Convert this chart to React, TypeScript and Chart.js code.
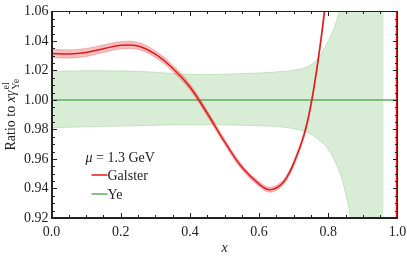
import React, { useEffect, useRef } from "react";
import { Chart, registerables } from "chart.js";

Chart.register(...registerables);

// ---- data ----
const galsterX = [0, 0.05, 0.1, 0.15, 0.2, 0.25, 0.3, 0.35, 0.4, 0.45, 0.5, 0.55, 0.6, 0.63, 0.66, 0.68, 0.7, 0.73, 0.75, 0.77, 0.79, 0.81];
const galsterRatio = [1.0315, 1.0312, 1.0322, 1.0347, 1.037, 1.0366, 1.031, 1.0215, 1.0088, 0.991, 0.9718, 0.9545, 0.943, 0.9392, 0.942, 0.9475, 0.957, 0.9765, 0.997, 1.026, 1.062, 1.105];
const galsterErr = [0.0028, 0.0028, 0.0027, 0.0026, 0.0025, 0.0024, 0.0023, 0.0022, 0.002, 0.0019, 0.0018, 0.0017, 0.0017, 0.0017, 0.0017, 0.0017, 0.0018, 0.002, 0.0022, 0.0025, 0.003, 0.0035];
const galsterSpikeX = [0.998, 0.998];
const galsterSpikeY = [0.92, 1.06];

const yeX = [0, 0.1, 0.2, 0.3, 0.37, 0.45, 0.52, 0.6, 0.66, 0.7, 0.74, 0.77, 0.8, 0.82, 0.84, 0.86, 0.88, 0.91, 0.96];
const yeUpper = [1.0195, 1.0198, 1.0197, 1.0188, 1.0176, 1.0172, 1.0176, 1.0183, 1.0192, 1.0202, 1.0225, 1.028, 1.04, 1.051, 1.066, 1.085, 1.11, 1.16, 1.25];
const yeLower = [0.9812, 0.9818, 0.9823, 0.9828, 0.9832, 0.9832, 0.983, 0.9825, 0.9818, 0.9805, 0.978, 0.9735, 0.9665, 0.958, 0.946, 0.926, 0.9, 0.86, 0.8];
const yeLineX = [0, 1];
const yeLineY = [1, 1];

const xTicks = [0, 0.2, 0.4, 0.6, 0.8, 1.0];
const yTicks = [0.92, 0.94, 0.96, 0.98, 1.0, 1.02, 1.04, 1.06];
const xMinorStep = 0.05;
const yMinorStep = 0.005;

const legendTitle = "μ = 1.3 GeV";
const seriesNames = ["Galster", "Ye"];

const SERIF = "'Liberation Serif', 'DejaVu Serif', serif";
const INK = "#222222";
const RED = "#e3191c";
const GREEN = "#5fae5c";

const pts = (xs: number[], ys: number[]) => xs.map((x, i) => ({ x, y: ys[i] }));

const framePlugin = {
  id: "frameTicks",
  afterDatasetsDraw(chart: any) {
    const ctx = chart.ctx as CanvasRenderingContext2D;
    const area = chart.chartArea;
    const xs = chart.scales.x;
    const ys = chart.scales.y;
    ctx.save();
    // Galster blow-up at x -> 1
    ctx.strokeStyle = RED;
    ctx.lineWidth = 2;
    ctx.beginPath();
    ctx.moveTo(xs.getPixelForValue(galsterSpikeX[0]), ys.getPixelForValue(galsterSpikeY[0]));
    ctx.lineTo(xs.getPixelForValue(galsterSpikeX[1]), ys.getPixelForValue(galsterSpikeY[1]));
    ctx.stroke();

    const L0 = Math.round(area.left);
    const R0 = Math.round(area.right) - 1;
    const T0 = Math.round(area.top);
    const B0 = Math.round(area.bottom) - 1;
    ctx.fillStyle = INK;
    ctx.fillRect(L0, T0, R0 - L0 + 1, 1);
    ctx.fillRect(L0, B0, R0 - L0 + 1, 1);
    ctx.fillRect(L0, T0, 1, B0 - T0 + 1);
    ctx.fillRect(R0, T0, 1, B0 - T0 + 1);
    const major = 5, minor = 3;
    const nx = Math.round(1 / xMinorStep);
    for (let i = 0; i <= nx; i++) {
      const v = i * xMinorStep;
      const px = Math.min(R0, Math.round(xs.getPixelForValue(v)));
      const isMajor = xTicks.some((t) => Math.abs(t - v) < 1e-6);
      const L = isMajor ? major : minor;
      ctx.fillRect(px, B0 - L + 1, 1, L);
      ctx.fillRect(px, T0, 1, L);
    }
    const ny = Math.round((1.06 - 0.92) / yMinorStep);
    for (let i = 0; i <= ny; i++) {
      const v = 0.92 + i * yMinorStep;
      const py = Math.min(B0, Math.round(ys.getPixelForValue(v)));
      const isMajor = yTicks.some((t) => Math.abs(t - v) < 1e-6);
      const L = isMajor ? major : minor;
      ctx.fillRect(L0, py, L, 1);
      ctx.fillRect(R0 - L + 1, py, L, 1);
    }
    ctx.restore();
  },
};

const textPlugin = {
  id: "texts",
  afterDraw(chart: any) {
    const ctx = chart.ctx as CanvasRenderingContext2D;
    const area = chart.chartArea;
    ctx.save();
    ctx.fillStyle = INK;
    ctx.textBaseline = "alphabetic";
    ctx.textAlign = "left";
    const fMain = `14px ${SERIF}`;
    const fIt = `italic 14px ${SERIF}`;
    const fSmall = `10px ${SERIF}`;
    ctx.font = fMain;
    const w1 = ctx.measureText("Ratio to ").width;
    ctx.font = fIt;
    const wx = ctx.measureText("x").width;
    const wg = ctx.measureText("γ").width;
    ctx.font = fSmall;
    const wsup = ctx.measureText("el").width;
    const wsub = ctx.measureText("Ye").width;
    const total = w1 + wx + wg + Math.max(wsup, wsub) + 1;
    const cy = (area.top + area.bottom) / 2;
    ctx.save();
    ctx.translate(15, cy);
    ctx.rotate(-Math.PI / 2);
    let cx = -total / 2;
    ctx.font = fMain;
    ctx.fillText("Ratio to ", cx, 0);
    cx += w1;
    ctx.font = fIt;
    ctx.fillText("x", cx, 0);
    cx += wx;
    ctx.fillText("γ", cx, 0);
    cx += wg + 1;
    ctx.font = fSmall;
    ctx.fillText("el", cx, -6);
    ctx.fillText("Ye", cx, 4);
    ctx.restore();

    ctx.font = fIt;
    ctx.textAlign = "center";
    ctx.fillText("x", (area.left + area.right) / 2, 252);

    const lx = area.left + 34;
    ctx.textAlign = "left";
    ctx.font = fIt;
    ctx.fillText("μ", lx, 162);
    const wmu = ctx.measureText("μ").width;
    ctx.font = fMain;
    ctx.fillText(legendTitle.slice(1), lx + wmu, 162);
    const colors = [RED, GREEN];
    seriesNames.forEach((name, i) => {
      const y = 175 + i * 19;
      ctx.strokeStyle = colors[i];
      ctx.lineWidth = 1.5;
      ctx.beginPath();
      ctx.moveTo(area.left + 40, y);
      ctx.lineTo(area.left + 56, y);
      ctx.stroke();
      ctx.fillStyle = INK;
      ctx.font = fMain;
      ctx.fillText(name, area.left + 56, y + 5);
    });
    ctx.restore();
  },
};

export default function App() {
  const ref = useRef<HTMLCanvasElement | null>(null);
  useEffect(() => {
    if (!ref.current) return;
    document.body.style.margin = "0";
    const gUp = galsterRatio.map((v, i) => v + galsterErr[i]);
    const gLo = galsterRatio.map((v, i) => v - galsterErr[i]);
    const chart = new Chart(ref.current, {
      type: "line",
      data: {
        datasets: [
          { label: "Galster", data: pts(galsterX, galsterRatio), borderColor: RED, borderWidth: 1.5, pointRadius: 0, tension: 0.4, fill: false, order: 0 },
          { label: "Galster upper", data: pts(galsterX, gUp), borderColor: "rgba(227,40,40,0.35)", borderWidth: 0.8, pointRadius: 0, tension: 0.4, fill: "+1", backgroundColor: "rgba(230,60,60,0.33)", order: 1 },
          { label: "Galster lower", data: pts(galsterX, gLo), borderColor: "rgba(227,40,40,0.35)", borderWidth: 0.8, pointRadius: 0, tension: 0.4, fill: false, order: 1 },
          { label: "Ye", data: pts(yeLineX, yeLineY), borderColor: GREEN, borderWidth: 1.5, pointRadius: 0, fill: false, order: 2 },
          { label: "Ye upper", data: pts(yeX, yeUpper), borderColor: "rgba(110,185,100,0.45)", borderWidth: 0.7, pointRadius: 0, cubicInterpolationMode: "monotone", fill: "+1", backgroundColor: "rgba(110,185,95,0.26)", order: 3 },
          { label: "Ye lower", data: pts(yeX, yeLower), borderColor: "rgba(110,185,100,0.45)", borderWidth: 0.7, pointRadius: 0, cubicInterpolationMode: "monotone", fill: false, order: 3 },
        ],
      },
      options: {
        responsive: false,
        animation: false,
        devicePixelRatio: 1,
        layout: { padding: { top: 11, right: 9.5, left: 0, bottom: 0 } },
        plugins: { legend: { display: false }, tooltip: { enabled: false } },
        scales: {
          x: {
            type: "linear",
            min: 0,
            max: 1,
            grid: { display: false, drawTicks: false },
            border: { display: true, color: INK, width: 1 },
            afterBuildTicks: (s: any) => {
              s.ticks = xTicks.map((v) => ({ value: v }));
            },
            afterFit: (s: any) => {
              s.height = 46;
              s.paddingLeft = 0;
              s.paddingRight = 0;
            },
            ticks: {
              autoSkip: false,
              maxRotation: 0,
              padding: 6,
              color: INK,
              font: { family: SERIF, size: 14 },
              callback: (v: any) => Number(v).toFixed(1),
            },
          },
          x2: {
            type: "linear",
            position: "top",
            min: 0,
            max: 1,
            grid: { display: false, drawTicks: false },
            border: { display: true, color: INK, width: 1 },
            ticks: { display: false },
            afterFit: (s: any) => {
              s.height = 0;
              s.paddingLeft = 0;
              s.paddingRight = 0;
            },
          },
          y: {
            type: "linear",
            min: 0.92,
            max: 1.06,
            grid: { display: false, drawTicks: false },
            border: { display: true, color: INK, width: 1 },
            afterBuildTicks: (s: any) => {
              s.ticks = yTicks.map((v) => ({ value: v }));
            },
            afterFit: (s: any) => {
              s.width = 51.5;
            },
            ticks: {
              autoSkip: false,
              padding: 3,
              color: INK,
              font: { family: SERIF, size: 14 },
              callback: (v: any) => Number(v).toFixed(2),
            },
          },
          y2: {
            type: "linear",
            position: "right",
            min: 0.92,
            max: 1.06,
            grid: { display: false, drawTicks: false },
            border: { display: true, color: INK, width: 1 },
            ticks: { display: false },
            afterFit: (s: any) => {
              s.width = 0;
            },
          },
        },
      },
      plugins: [framePlugin, textPlugin],
    } as any);
    return () => chart.destroy();
  }, []);
  return (
    <div style={{ position: "absolute", left: 0, top: 0, width: 407, height: 264, background: "#fff" }}>
      <canvas ref={ref} width={407} height={264} />
    </div>
  );
}
